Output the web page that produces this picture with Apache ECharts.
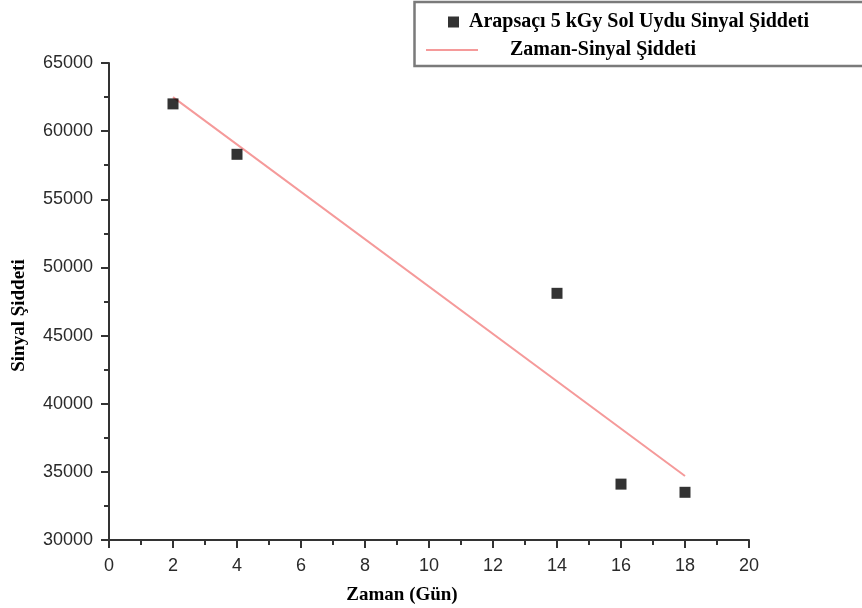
<!DOCTYPE html>
<html><head><meta charset="utf-8">
<script src="https://cdn.jsdelivr.net/npm/echarts@6/dist/echarts.min.js"></script>
<style>html,body{margin:0;padding:0;background:#fff}#c{width:862px;height:608px}</style>
</head><body><div id="c"></div>
<script>
const days = [2, 4, 14, 16, 18];
const signal = [62000, 58300, 48100, 34100, 33500];
const fitDays = [2, 18];
const fitSignal = [62500, 34700];
const xTicks = [0, 2, 4, 6, 8, 10, 12, 14, 16, 18, 20];
const yTicks = [30000, 35000, 40000, 45000, 50000, 55000, 60000, 65000];
const scatterName = 'Arapsaçı 5 kGy Sol Uydu Sinyal Şiddeti';
const lineName = 'Zaman-Sinyal Şiddeti';

const chart = echarts.init(document.getElementById('c'));
const serif = 'Liberation Serif, Times New Roman, serif';
const axisCommon = {
  axisLine: {show: true, lineStyle: {color: '#333', width: 2}},
  axisTick: {show: true, inside: false, length: 8, lineStyle: {color: '#333', width: 2}},
  minorTick: {show: true, splitNumber: 2, length: 5, lineStyle: {color: '#333', width: 2}},
  splitLine: {show: false},
  axisLabel: {color: '#2a2a2a', fontFamily: 'Liberation Sans, Arial', fontSize: 18, formatter: v => String(v)}
};
chart.setOption({
  animation: false,
  grid: {left: 109, right: 113, top: 63, bottom: 68, containLabel: false, outerBoundsMode: 'none'},
  xAxis: Object.assign({}, axisCommon, {
    type: 'value', min: xTicks[0], max: xTicks[xTicks.length - 1], interval: 2,
    name: 'Zaman (Gün)', nameLocation: 'middle', nameGap: 46,
    nameTextStyle: {fontFamily: serif, fontWeight: 'bold', fontSize: 19, color: '#000', padding: [0, 54, 0, 0]},
    axisLabel: Object.assign({}, axisCommon.axisLabel, {margin: 17})
  }),
  yAxis: Object.assign({}, axisCommon, {
    type: 'value', min: yTicks[0], max: yTicks[yTicks.length - 1], interval: 5000,
    name: 'Sinyal Şiddeti', nameLocation: 'middle', nameGap: 80,
    nameTextStyle: {fontFamily: serif, fontWeight: 'bold', fontSize: 19, color: '#000', padding: [0, 28, 0, 0]},
    axisLabel: Object.assign({}, axisCommon.axisLabel, {margin: 16})
  }),
  legend: [
    {data: [scatterName], left: 448, top: 12, orient: 'vertical', icon: 'rect', itemWidth: 11, itemHeight: 11, padding: 0,
     textStyle: {fontFamily: serif, fontWeight: 'bold', fontSize: 20, color: '#000', padding: [0, 0, 0, 5]}},
    {data: [lineName], left: 426, top: 40, orient: 'vertical', itemWidth: 52, itemHeight: 2, padding: 0,
     icon: 'path://M0,0 L52,0 L52,2 L0,2 Z',
     textStyle: {fontFamily: serif, fontWeight: 'bold', fontSize: 20, color: '#000', padding: [0, 0, 0, 27]}}
  ],
  graphic: [{type: 'rect', shape: {x: 414.5, y: 2, width: 460, height: 64},
    style: {fill: 'none', stroke: '#7a7a7a', lineWidth: 2.5}, z: 0}],
  series: [
    {name: scatterName, type: 'scatter', symbol: 'rect', symbolSize: 11,
     itemStyle: {color: '#000'}, data: days.map((d, i) => [d, signal[i]]), z: 3},
    {name: lineName, type: 'line', symbol: 'none', lineStyle: {color: '#f59a9a', width: 2},
     itemStyle: {color: '#f59a9a'}, data: fitDays.map((d, i) => [d, fitSignal[i]]), z: 2}
  ]
});
</script></body></html>
